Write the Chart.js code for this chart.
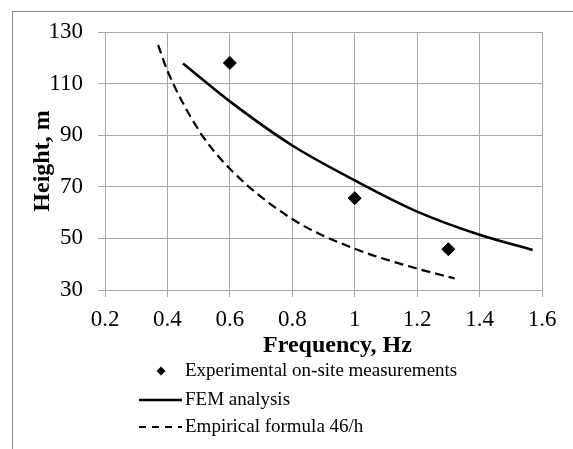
<!DOCTYPE html>
<html>
<head>
<meta charset="utf-8">
<script src="https://cdn.jsdelivr.net/npm/chart.js@4.4.0/dist/chart.umd.min.js"></script>
<style>
html, body { margin: 0; padding: 0; background: #fff; overflow: hidden; }
#wrap { position: relative; width: 573px; height: 449px; }
#frame { position: absolute; left: 12px; top: 11px; width: 600px; height: 500px;
         border-top: 1px solid #8a8a8a; border-left: 1px solid #8a8a8a; }
canvas { position: absolute; left: 0; top: 0; }
</style>
</head>
<body>
<div id="wrap"><div id="frame"></div><canvas id="chart" width="573" height="449"></canvas></div>
<script>
// axis ticks
var xTicks = [0.2, 0.4, 0.6, 0.8, 1.0, 1.2, 1.4, 1.6];
var yTicks = [30, 50, 70, 90, 110, 130];

// experimental on-site measurements
var measuredFreq = [0.6, 1.0, 1.3];
var measuredHeight = [118, 65.6, 45.8];

// FEM analysis curve
var femFreq = [0.45, 0.6, 0.8, 1.0, 1.2, 1.4, 1.57];
var femHeight = [117.8, 103.1, 86, 72.5, 60.4, 51.4, 45.5];

// empirical formula 46/h curve
var empFreq = [0.37, 0.4, 0.5, 0.6, 0.8, 1.0, 1.2, 1.32];
var empHeight = [125, 115, 92, 77, 57.5, 46, 38.3, 34.5];

var labels = ['Experimental on-site measurements', 'FEM analysis', 'Empirical formula 46/h'];
var xTitle = 'Frequency, Hz';

var serif = "'Liberation Serif', 'Times New Roman', serif";

function toPoints(xs, ys) {
    return xs.map(function(x, i) { return { x: x, y: ys[i] }; });
}

// x title (sits a little right of centre) and a one-column legend under it
var bottomBlock = {
    id: 'bottomBlock',
    afterDraw: function(chart) {
        var ctx = chart.ctx;
        var area = chart.chartArea;
        var left = area.left;
        var base = area.bottom;
        ctx.save();
        ctx.fillStyle = '#000';
        ctx.textBaseline = 'middle';
        ctx.textAlign = 'center';
        ctx.font = 'bold 24px ' + serif;
        ctx.fillText(xTitle, (area.left + area.right) / 2 + 14, base + 56);

        var rows = [81, 110, 137];
        chart.data.datasets.forEach(function(ds, i) {
            var y = base + rows[i];
            ctx.strokeStyle = '#000';
            if (!ds.showLine) {
                var cx = left + 56, r = 4.5;
                ctx.beginPath();
                ctx.moveTo(cx - r, y);
                ctx.lineTo(cx, y - r);
                ctx.lineTo(cx + r, y);
                ctx.lineTo(cx, y + r);
                ctx.closePath();
                ctx.fill();
            } else {
                ctx.lineWidth = ds.borderWidth;
                ctx.setLineDash(ds.borderDash ? [7, 6] : []);
                ctx.beginPath();
                ctx.moveTo(left + 34, y);
                ctx.lineTo(left + 77, y);
                ctx.stroke();
                ctx.setLineDash([]);
            }
            ctx.font = '19px ' + serif;
            ctx.textAlign = 'left';
            ctx.fillText(ds.label, left + 80, y);
        });
        ctx.restore();
    }
};

new Chart(document.getElementById('chart'), {
    type: 'scatter',
    data: {
        datasets: [{
            label: labels[0],
            data: toPoints(measuredFreq, measuredHeight),
            pointStyle: 'rectRot',
            pointRadius: 6.5,
            backgroundColor: '#000',
            borderColor: '#000',
            showLine: false
        }, {
            label: labels[1],
            data: toPoints(femFreq, femHeight),
            showLine: true,
            borderColor: '#000',
            borderWidth: 2.6,
            pointRadius: 0,
            cubicInterpolationMode: 'monotone'
        }, {
            label: labels[2],
            data: toPoints(empFreq, empHeight),
            showLine: true,
            borderColor: '#000',
            borderWidth: 2.2,
            borderDash: [9, 5],
            pointRadius: 0,
            cubicInterpolationMode: 'monotone'
        }]
    },
    options: {
        responsive: false,
        animation: false,
        layout: { padding: { top: 32, right: 31, left: 0, bottom: 0 } },
        plugins: {
            legend: { display: false },
            tooltip: { enabled: false }
        },
        scales: {
            x: {
                type: 'linear',
                min: 0.2,
                max: 1.6,
                afterBuildTicks: function(scale) {
                    scale.ticks = xTicks.map(function(v) { return { value: v }; });
                },
                afterFit: function(scale) { scale.height = 159; },
                ticks: {
                    color: '#000',
                    padding: 9,
                    font: { family: serif, size: 23 },
                    callback: function(v) { return String(v); }
                },
                grid: { color: '#a6a6a6', lineWidth: 1, tickLength: 7 },
                border: { display: false }
            },
            y: {
                type: 'linear',
                min: 30,
                max: 130,
                afterBuildTicks: function(scale) {
                    scale.ticks = yTicks.map(function(v) { return { value: v }; });
                },
                afterFit: function(scale) { scale.width = 105; },
                ticks: {
                    color: '#000',
                    padding: 15,
                    font: { family: serif, size: 23 }
                },
                grid: { color: '#a6a6a6', lineWidth: 1, tickLength: 7 },
                border: { display: false },
                title: {
                    display: true,
                    text: 'Height, m',
                    color: '#000',
                    font: { family: serif, size: 24, weight: 'bold' },
                    padding: { top: 28, bottom: 0 }
                }
            }
        }
    },
    plugins: [bottomBlock]
});
</script>
</body>
</html>
